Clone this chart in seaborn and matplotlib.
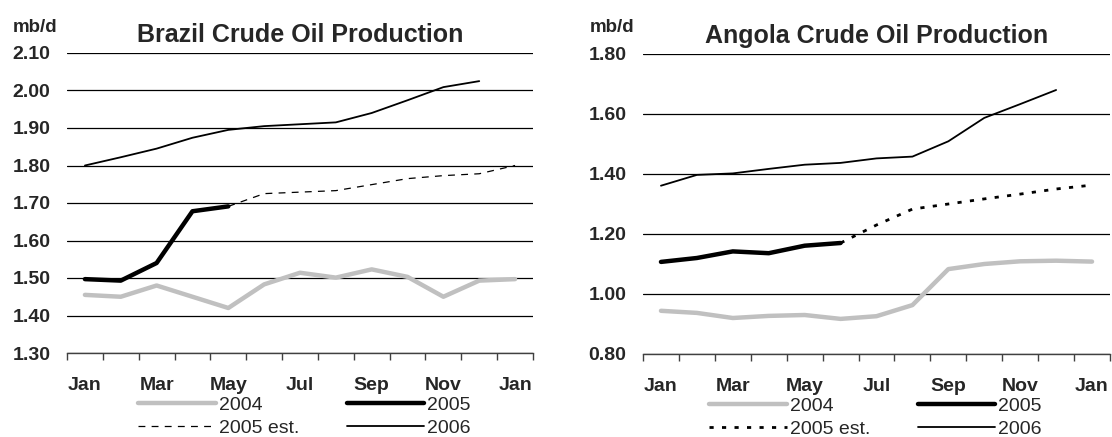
import numpy as np
import pandas as pd
import matplotlib
matplotlib.use("Agg")
import matplotlib.pyplot as plt
import seaborn as sns

# month labels (13 categories: Jan..Dec + next Jan)
months = ['Jan', 'Feb', 'Mar', 'Apr', 'May', 'Jun', 'Jul',
          'Aug', 'Sep', 'Oct', 'Nov', 'Dec', 'Jan']
tick_months = ['Jan', 'Mar', 'May', 'Jul', 'Sep', 'Nov', 'Jan']

# Brazil, mb/d
brazil_2004 = [1.455, 1.450, 1.480, 1.450, 1.420, 1.483, 1.514, 1.501, 1.523, 1.503, 1.450, 1.493, 1.497]
brazil_2005 = [1.497, 1.493, 1.540, 1.678, 1.691]
brazil_2005_est = [np.nan, np.nan, np.nan, np.nan, 1.691, 1.725, 1.729, 1.733, 1.749, 1.765, 1.773, 1.778, 1.800]
brazil_2006 = [1.800, 1.822, 1.845, 1.874, 1.895, 1.905, 1.910, 1.915, 1.940, 1.974, 2.009, 2.025]

# Angola, mb/d
angola_2004 = [0.944, 0.937, 0.920, 0.927, 0.930, 0.917, 0.926, 0.963, 1.083, 1.100, 1.109, 1.111, 1.108]
angola_2005 = [1.107, 1.120, 1.142, 1.136, 1.161, 1.170]
angola_2005_est = [np.nan, np.nan, np.nan, np.nan, np.nan, 1.170, 1.230, 1.283, 1.300, 1.317, 1.333, 1.350, 1.363]
angola_2006 = [1.361, 1.397, 1.402, 1.417, 1.431, 1.437, 1.452, 1.458, 1.509, 1.587, 1.633, 1.680]

sns.set_theme(style='white')
plt.rcParams['font.family'] = ['Liberation Sans', 'DejaVu Sans']

fig = plt.figure(figsize=(11.12, 4.37), dpi=100)
W, H = 1112, 437


def px_axes(x0, y0, x1, y1):
    return fig.add_axes([x0 / W, 1 - y1 / H, (x1 - x0) / W, (y1 - y0) / H])


def draw(ax, title, s2004, s2005, s2005e, s2006, ylim, ystep, est_style, leg_x):
    def frame(vals):
        return pd.DataFrame({'m': np.arange(len(vals)), 'v': vals}).dropna()

    sns.lineplot(data=frame(s2004), x='m', y='v', ax=ax, color='#c0c0c0', lw=3.2, label='2004')
    sns.lineplot(data=frame(s2005), x='m', y='v', ax=ax, color='black', lw=3.2, label='2005')
    d = frame(s2005e)
    ax.plot(d['m'], d['v'], color='black', label='2005 est.', **est_style)
    sns.lineplot(data=frame(s2006), x='m', y='v', ax=ax, color='black', lw=1.3, label='2006')

    ax.set_xlim(-0.5, 12.5)
    ax.set_ylim(*ylim)
    ax.set_yticks(np.arange(ylim[0], ylim[1] + ystep / 2, ystep))
    ax.yaxis.set_major_formatter(matplotlib.ticker.FormatStrFormatter('%.2f'))
    ax.set_xticks(np.arange(0, 13, 2))
    ax.set_xticklabels(tick_months)
    ax.set_xticks(np.arange(-0.5, 13, 1), minor=True)
    ax.tick_params(axis='x', which='major', length=0, pad=17, labelsize=14)
    ax.tick_params(axis='x', which='minor', length=5, width=1, direction='out',
                   color='#404040', bottom=True)
    ax.tick_params(axis='y', length=0, pad=12, labelsize=14)
    for lab in ax.get_xticklabels() + ax.get_yticklabels():
        lab.set_fontweight('bold')
    ax.grid(axis='y', color='black', lw=0.9)
    ax.grid(axis='x', visible=False)
    for s in ['left', 'right', 'top']:
        ax.spines[s].set_visible(False)
    ax.spines['bottom'].set_color('#404040')
    ax.spines['bottom'].set_linewidth(1)
    ax.set_xlabel('')
    ax.set_ylabel('')
    ax.set_title(title, fontsize=18, fontweight='bold', pad=8)

    # legend filled column-wise, so this order gives rows 2004|2005 and 2005 est.|2006
    h, l = ax.get_legend_handles_labels()
    order = [l.index(k) for k in ['2004', '2005 est.', '2005', '2006']]
    ax.legend([h[i] for i in order], [l[i] for i in order], ncol=2, frameon=False,
              loc='upper left', bbox_to_anchor=(leg_x, -0.143), fontsize=14,
              handlelength=4.0, handletextpad=0.15, columnspacing=2.45,
              labelspacing=0.3, borderaxespad=0, borderpad=0)


ax1 = px_axes(67, 53, 533, 353)
draw(ax1, 'Brazil Crude Oil Production', brazil_2004, brazil_2005, brazil_2005_est,
     brazil_2006, (1.30, 2.10), 0.10, dict(lw=0.9, dashes=(5.5, 5)), 71 / 466)

ax2 = px_axes(643, 54, 1110, 354)
draw(ax2, 'Angola Crude Oil Production', angola_2004, angola_2005, angola_2005_est,
     angola_2006, (0.80, 1.80), 0.20, dict(lw=2.0, dashes=(1.5, 3)), 66 / 467)

fig.text(13 / W, 1 - 27 / H, 'mb/d', fontsize=13.5, fontweight='bold', va='center', ha='left')
fig.text(590 / W, 1 - 27 / H, 'mb/d', fontsize=13.5, fontweight='bold', va='center', ha='left')

fig.savefig('out.png', dpi=100)
